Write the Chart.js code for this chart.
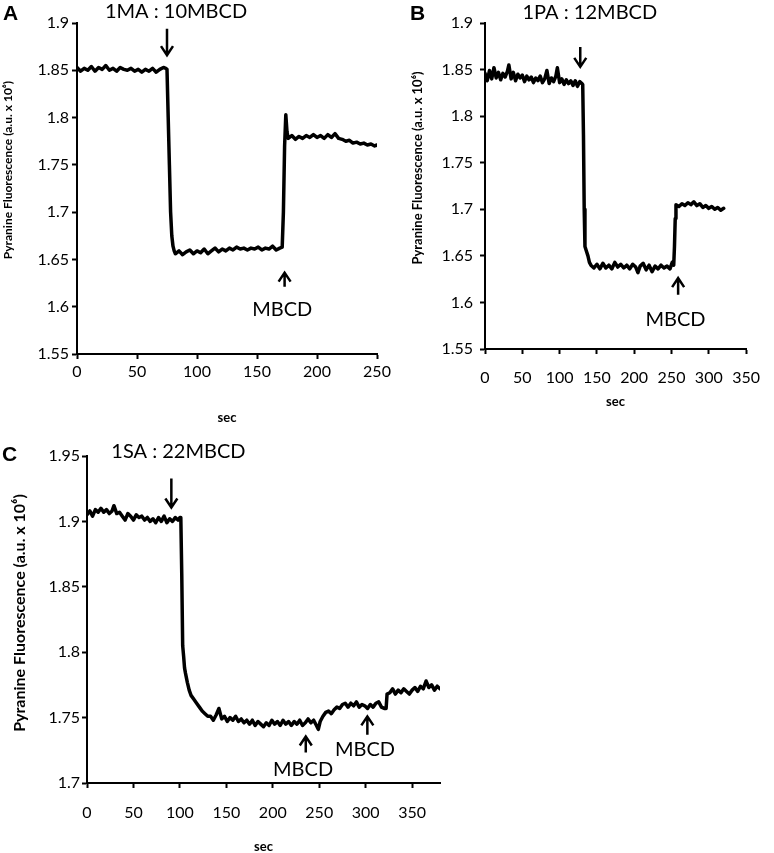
<!DOCTYPE html>
<html>
<head>
<meta charset="utf-8">
<script src="https://cdn.jsdelivr.net/npm/chart.js@4.4.1/dist/chart.umd.min.js"></script>
<style>
body{margin:0;background:#fff;width:774px;height:853px;overflow:hidden;position:relative}
canvas{position:absolute}
</style>
</head>
<body>
<canvas id="chartA" width="400" height="430" style="left:0;top:0"></canvas>
<canvas id="chartB" width="379" height="420" style="left:395px;top:0"></canvas>
<canvas id="chartC" width="460" height="440" style="left:0;top:420px"></canvas>
<script>
// panel A : 1MA : 10MBCD
const timeA = [0,3,6,9,12,15,18,21,24,27,30,33,36,39,42,45,48,51,54,57,60,63,66,69,72,74,
  75,76,77,78,79,80,81,
  82,85,88,91,94,97,100,103,106,109,112,115,118,121,124,127,130,133,136,139,142,145,148,151,154,157,160,163,166,169,171,
  172,173,174,175,176,
  179,182,185,188,191,194,197,200,203,206,209,212,215,218,221,224,227,230,233,236,239,242,245,248,250];
const fluorA = [1.853,1.849,1.852,1.850,1.854,1.849,1.853,1.851,1.855,1.850,1.852,1.849,1.853,1.851,1.850,1.852,1.849,1.851,1.848,1.851,1.849,1.852,1.848,1.851,1.853,1.852,
  1.851,1.800,1.750,1.700,1.675,1.664,1.659,
  1.656,1.659,1.655,1.658,1.660,1.656,1.659,1.657,1.661,1.656,1.659,1.662,1.658,1.661,1.659,1.662,1.660,1.663,1.661,1.662,1.660,1.662,1.661,1.663,1.660,1.662,1.661,1.664,1.660,1.662,1.663,
  1.700,1.770,1.803,1.785,1.778,
  1.781,1.777,1.780,1.778,1.781,1.779,1.782,1.779,1.781,1.778,1.782,1.779,1.783,1.778,1.777,1.775,1.776,1.773,1.774,1.772,1.773,1.771,1.772,1.770,1.771];

// panel B : 1PA : 12MBCD
const timeB = [0,3,6,9,12,15,18,21,24,27,30,32,35,38,41,44,47,50,53,56,59,62,65,68,71,74,77,80,83,86,89,92,95,97,100,103,106,109,112,115,118,121,124,127,130,
  131,132,133,134,136,138,140,142,
  146,150,154,158,162,166,170,174,178,182,186,190,194,198,202,205,208,212,216,220,224,228,232,236,240,244,248,251,253,
  254,255,256,
  260,264,268,272,276,280,284,288,292,296,300,304,308,312,316,320];
const fluorB = [1.846,1.838,1.849,1.840,1.852,1.841,1.847,1.839,1.846,1.842,1.848,1.855,
  1.840,1.847,1.838,1.845,1.841,1.844,1.837,1.843,1.839,1.842,1.836,1.841,1.838,1.843,1.836,1.840,1.849,1.835,1.841,1.837,1.843,1.852,
  1.836,1.840,1.834,1.839,1.835,1.838,1.833,1.838,1.832,1.837,1.835,
  1.834,1.780,1.700,1.660,1.655,1.650,1.643,1.640,
  1.637,1.641,1.636,1.642,1.637,1.640,1.636,1.643,1.638,1.641,1.637,1.640,1.636,1.641,1.638,1.632,1.639,1.642,1.635,1.640,1.633,1.639,1.636,1.640,1.637,1.639,1.636,1.643,1.640,
  1.660,1.690,1.705,
  1.703,1.706,1.704,1.707,1.705,1.708,1.704,1.706,1.702,1.704,1.701,1.703,1.700,1.702,1.699,1.701];

// panel C : 1SA : 22MBCD
const timeC = [0,3,6,9,12,15,18,21,24,27,29,32,35,38,41,44,47,50,53,56,59,62,65,68,71,74,77,80,83,86,89,92,95,98,100,
  101,102,103,104,105,106,108,110,112,115,118,121,124,127,130,
  133,136,139,142,145,148,151,154,157,160,163,166,169,172,175,178,181,184,187,190,193,196,199,202,205,208,211,214,217,220,223,226,229,232,235,238,241,244,247,249,251,
  254,257,260,263,266,269,
  272,275,278,281,284,287,290,293,296,299,302,305,308,311,314,317,320,322,
  323,
  326,329,332,335,338,341,344,347,350,353,356,359,362,365,368,371,374,377,380];
const fluorC = [1.905,1.908,1.904,1.909,1.907,1.910,1.907,1.909,1.906,1.908,1.912,
  1.906,1.907,1.904,1.901,1.906,1.904,1.901,1.905,1.903,1.904,1.901,1.903,1.900,1.902,1.899,1.903,1.900,1.904,1.899,1.902,1.900,1.903,1.901,1.903,
  1.903,1.860,1.805,1.797,1.788,1.784,1.777,1.771,1.767,1.764,1.761,1.758,1.755,1.753,1.751,
  1.751,1.748,1.752,1.757,1.749,1.751,1.747,1.750,1.748,1.751,1.747,1.749,1.746,1.748,1.745,1.748,1.744,1.747,1.745,1.743,
  1.746,1.744,1.748,1.745,1.747,1.744,1.748,1.745,1.747,1.744,1.747,1.745,1.748,1.744,1.746,1.749,1.746,1.748,1.744,1.741,1.747,
  1.751,1.754,1.755,1.753,1.756,1.758,
  1.757,1.760,1.761,1.758,1.761,1.759,1.762,1.758,1.760,1.759,1.757,1.760,1.758,1.761,1.762,1.758,1.757,1.757,
  1.768,
  1.769,1.772,1.768,1.771,1.769,1.772,1.770,1.768,1.771,1.773,1.770,1.774,1.772,1.778,1.773,1.775,1.771,1.774,1.772];

const yTitle = 'Pyranine Fluorescence (a.u. x 10\u2076)';

// annotations, in data units of each panel
const labelsA = [{text:'1MA : 10MBCD', x:82.5, y:1.9057}, {text:'MBCD', x:171, y:1.590}];
const arrowsA = [{x:75, from:1.894, to:1.866}, {x:173, from:1.621, to:1.636}];
const labelsB = [{text:'1PA : 12MBCD', x:140.5, y:1.9047}, {text:'MBCD', x:255.4, y:1.5742}];
const arrowsB = [{x:127.7, from:1.8743, to:1.8529}, {x:258.9, from:1.6082, to:1.6261}];
const labelsC = [{text:'1SA : 22MBCD', x:98.4, y:1.9488}, {text:'MBCD', x:232.6, y:1.7056}, {text:'MBCD', x:299.3, y:1.7203}];
const arrowsC = [{x:90.8, from:1.9328, to:1.9106}, {x:235.5, from:1.7234, to:1.7356}, {x:301.8, from:1.7369, to:1.7509}];

function notesPlugin(n) {
  return {
    id: 'notes',
    afterDraw(chart) {
      const ctx = chart.ctx, xs = chart.scales.x, ys = chart.scales.y;
      ctx.save();
      ctx.fillStyle = '#000';
      ctx.strokeStyle = '#000';

      ctx.font = 'bold 21px "Liberation Sans"';
      ctx.textAlign = 'left';
      ctx.textBaseline = 'alphabetic';
      ctx.fillText(n.letter, n.letterAt[0], n.letterAt[1]);

      ctx.save();
      ctx.translate(n.yTitleAt[0], n.yTitleAt[1]);
      ctx.rotate(-Math.PI / 2);
      ctx.font = 'bold ' + n.yTitleSize + 'px Lato';
      ctx.textAlign = 'center';
      ctx.textBaseline = 'middle';
      ctx.fillText(yTitle, 0, 0);
      ctx.restore();

      ctx.font = '20px Lato';
      ctx.textAlign = 'center';
      ctx.textBaseline = 'alphabetic';
      n.labels.forEach(l => ctx.fillText(l.text, xs.getPixelForValue(l.x), ys.getPixelForValue(l.y)));

      ctx.lineWidth = 2.5;
      n.arrows.forEach(a => {
        const x = xs.getPixelForValue(a.x);
        const y0 = ys.getPixelForValue(a.from), y1 = ys.getPixelForValue(a.to);
        const dir = y1 > y0 ? 1 : -1;
        ctx.beginPath();
        ctx.moveTo(x, y0);
        ctx.lineTo(x, y1);
        ctx.moveTo(x - 6, y1 - dir * 9);
        ctx.lineTo(x, y1);
        ctx.lineTo(x + 6, y1 - dir * 9);
        ctx.stroke();
      });
      ctx.restore();
    }
  };
}

function panelOptions(p) {
  return {
    responsive: false,
    animation: false,
    layout: { padding: { left: 0, top: p.top, right: p.right, bottom: 0 } },
    plugins: { legend: { display: false }, tooltip: { enabled: false } },
    scales: {
      x: {
        type: 'linear', min: 0, max: p.xMax,
        ticks: { stepSize: 50, includeBounds: false, padding: p.xPad, color: '#000', maxRotation: 0,
          font: { family: 'Lato', size: 16 } },
        grid: { display: true, drawOnChartArea: false, drawTicks: true, tickLength: 5, tickWidth: 2, color: '#000', tickColor: '#000' },
        border: { display: true, color: '#000', width: 2 },
        title: { display: true, text: 'sec', color: '#000', font: { family: 'Lato', size: 13, weight: 'bold' },
          padding: { top: 0, bottom: p.secPad } },
        afterFit: s => { s.height = p.xHeight; }
      },
      y: {
        min: p.yMin, max: p.yMax,
        ticks: { stepSize: 0.05, padding: p.yPad, color: '#000', font: { family: 'Lato', size: 16 },
          callback: v => String(Math.round(v * 100) / 100) },
        grid: { display: true, drawOnChartArea: false, drawTicks: true, tickLength: 5, tickWidth: 2, color: '#000', tickColor: '#000' },
        border: { display: true, color: '#000', width: 2 },
        afterFit: s => { s.width = p.yWidth; }
      }
    }
  };
}

function trace(times, values) {
  return {
    datasets: [{
      data: times.map((t, i) => ({ x: t, y: values[i] })),
      borderColor: '#000',
      borderWidth: 3.5,
      borderJoinStyle: 'round',
      borderCapStyle: 'round',
      pointRadius: 0,
      tension: 0,
      fill: false
    }]
  };
}

const chartA = new Chart(document.getElementById('chartA'), {
  type: 'line',
  data: trace(timeA, fluorA),
  options: panelOptions({ top: 23, right: 23, xMax: 250, yMin: 1.55, yMax: 1.9, yWidth: 77, xHeight: 76, xPad: 3, yPad: 3, secPad: 4 }),
  plugins: [notesPlugin({ letter: 'A', letterAt: [3, 20], yTitleAt: [8, 170], yTitleSize: 12, labels: labelsA, arrows: arrowsA })]
});

const chartB = new Chart(document.getElementById('chartB'), {
  type: 'line',
  data: trace(timeB, fluorB),
  options: panelOptions({ top: 23, right: 15, xMax: 350, yMin: 1.55, yMax: 1.9, yWidth: 90, xHeight: 71, xPad: 14, yPad: 7, secPad: 10 }),
  plugins: [notesPlugin({ letter: 'B', letterAt: [15, 20], yTitleAt: [23, 168], yTitleSize: 13, labels: labelsB, arrows: arrowsB })]
});

const chartC = new Chart(document.getElementById('chartC'), {
  type: 'line',
  data: trace(timeC, fluorC),
  options: panelOptions({ top: 36, right: 20, xMax: 380, yMin: 1.7, yMax: 1.95, yWidth: 87, xHeight: 77, xPad: 15, yPad: 2, secPad: 5 }),
  plugins: [notesPlugin({ letter: 'C', letterAt: [2, 41], yTitleAt: [20, 193], yTitleSize: 16, labels: labelsC, arrows: arrowsC })]
});
</script>
</body>
</html>
